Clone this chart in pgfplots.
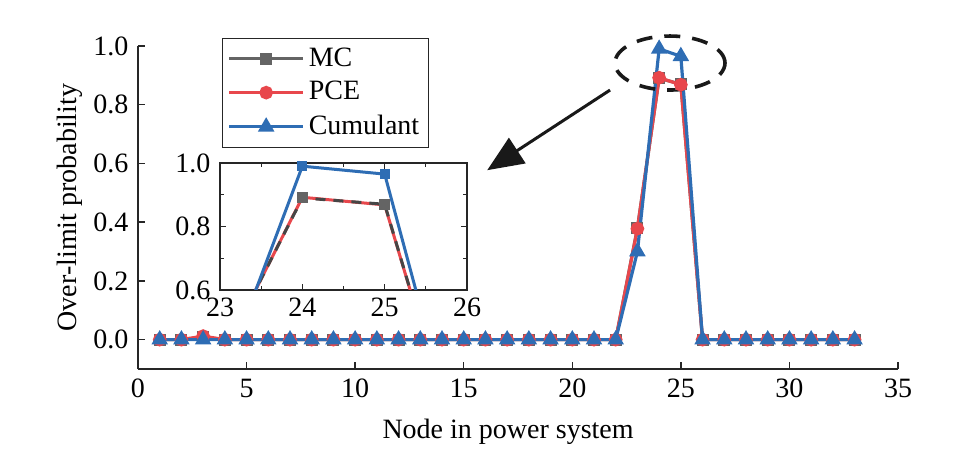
\documentclass[border=0pt]{standalone}
\usepackage{pgfplots}
\pgfplotsset{compat=1.18}
\usepackage{fontspec}
\setmainfont{Liberation Serif}
\usetikzlibrary{arrows.meta}
\definecolor{mcgray}{RGB}{100,100,100}
\definecolor{pcered}{RGB}{232,71,76}
\definecolor{cublue}{RGB}{46,109,180}
\pgfplotstableread{
x mc pce cu
1 0 0 0
2 0 0 0
3 0.008 0.012 0
4 0 0 0
5 0 0 0
6 0 0 0
7 0 0 0
8 0 0 0
9 0 0 0
10 0 0 0
11 0 0 0
12 0 0 0
13 0 0 0
14 0 0 0
15 0 0 0
16 0 0 0
17 0 0 0
18 0 0 0
19 0 0 0
20 0 0 0
21 0 0 0
22 0 0 0
23 0.38 0.378 0.30
24 0.89 0.892 0.99
25 0.87 0.868 0.965
26 0 0 0
27 0 0 0
28 0 0 0
29 0 0 0
30 0 0 0
31 0 0 0
32 0 0 0
33 0 0 0
}\datatable
\begin{document}
\fontsize{14pt}{16pt}\selectfont
\begin{tikzpicture}
\path (-69pt,-42.5pt) rectangle (410.5pt,184.5pt);
\begin{axis}[
  scale only axis,
  width=380pt, height=161.5pt,
  xmin=0, xmax=35, ymin=-0.1, ymax=1.0,
  axis x line*=bottom, axis y line*=left,
  axis line style={-, line width=0.8pt, black!85},
  xtick={0,5,...,35},
  ytick={0,0.2,0.4,0.6,0.8,1.0},
  yticklabel style={/pgf/number format/.cd, fixed, fixed zerofill, precision=1},
  /pgf/number format/assume math mode=true,
  tick align=inside,
  major tick length=3.5pt,
  tick style={line width=0.7pt, black!85},
  ticklabel style={font=\fontsize{14pt}{16pt}\selectfont},
  label style={font=\fontsize{14pt}{16pt}\selectfont},
  xlabel={Node in power system},
  ylabel={Over-limit probability},
  xlabel style={at={(axis description cs:0.487,-0.195)}, anchor=center},
  ylabel style={at={(axis description cs:-0.0895,0.5)}, anchor=center, rotate=0},
  legend style={at={(axis description cs:0.1105,1.025)}, anchor=north west,
    draw=black!85, line width=0.6pt, font=\fontsize{14pt}{16pt}\selectfont,
    row sep=1.5pt, inner sep=2.5pt},
  legend cell align=left,
  legend image code/.code={\draw[mark repeat=2,mark phase=2] plot coordinates {(0cm,0cm)(0.65cm,0cm)(1.3cm,0cm)};},
  clip=false,
]
\addplot[mcgray, line width=1.6pt, mark=square*, mark size=2.2pt, mark options={solid}] table[x=x,y=mc]{\datatable};
\addlegendentry{MC}
\addplot[pcered, line width=1.6pt, mark=*, mark size=2.6pt, mark options={solid}] table[x=x,y=pce]{\datatable};
\addlegendentry{PCE}
\addplot[cublue, line width=1.6pt, mark=triangle*, mark size=3.2pt, mark options={solid}] table[x=x,y=cu]{\datatable};
\addlegendentry{Cumulant}
\draw[black!90, line width=1.8pt, dash pattern=on 8pt off 6pt] (axis cs:24.5,0.942) ellipse [x radius=27.5pt, y radius=13.5pt];
\draw[black!90, line width=1.5pt, -{Triangle[length=18pt,width=15pt]}] (axis cs:21.74,0.85) -- (axis cs:16.08,0.577);
\end{axis}
\begin{axis}[
  at={(41pt,39.5pt)}, anchor=south west,
  scale only axis,
  width=123.5pt, height=63.5pt,
  xmin=23, xmax=26, ymin=0.6, ymax=1.0,
  xtick={23,24,25,26}, ytick={0.6,0.8,1.0},
  minor tick num=1,
  yticklabel style={/pgf/number format/.cd, fixed, fixed zerofill, precision=1},
  /pgf/number format/assume math mode=true,
  tick align=inside,
  major tick length=3pt, minor tick length=2pt,
  tick style={line width=0.6pt, black!85},
  axis line style={line width=0.8pt, black!85},
  ticklabel style={font=\fontsize{14pt}{16pt}\selectfont},
  xticklabel style={yshift=1pt},
  axis background/.style={fill=white},
]
\addplot[pcered, line width=1.5pt] table[x=x,y=pce]{\datatable};
\addplot[mcgray!70!black, line width=1.5pt, dash pattern=on 5pt off 4pt, mark=square*, mark size=2pt, mark options={solid, fill=mcgray, draw=mcgray}] table[x=x,y=mc]{\datatable};
\addplot[cublue, line width=1.5pt, mark=square*, mark size=1.8pt, mark options={solid}] table[x=x,y=cu]{\datatable};
\end{axis}
\end{tikzpicture}
\end{document}
